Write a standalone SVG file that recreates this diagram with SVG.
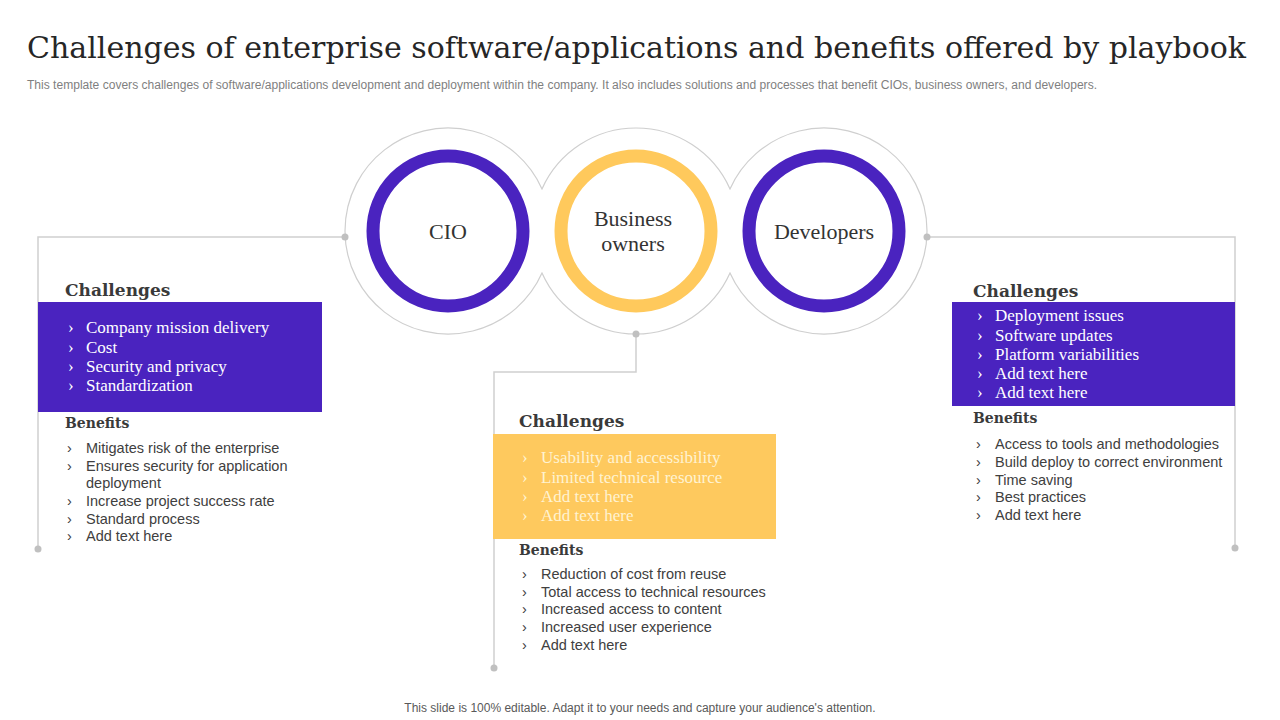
<svg xmlns="http://www.w3.org/2000/svg" width="1280" height="720" viewBox="0 0 1280 720">
<style>
.title{font-family:"DejaVu Serif","Liberation Serif",serif;font-size:29px;fill:#262626}
.sub{font-family:"Liberation Sans",Arial,sans-serif;font-size:12px;fill:#7f7f7f}
.foot{font-family:"Liberation Sans",Arial,sans-serif;font-size:12px;fill:#595959}
.lbl{font-family:"Liberation Serif",serif;font-size:22px;fill:#333333}
.hd{font-family:"DejaVu Serif","Liberation Serif",serif;font-weight:bold;font-size:17px;fill:#3a3a3a}
.bhd{font-family:"DejaVu Serif","Liberation Serif",serif;font-weight:bold;font-size:14px;fill:#3a3a3a}
.ci{font-family:"Liberation Serif",serif;font-size:17px;fill:#ffffff}
.ciy{font-family:"Liberation Serif",serif;font-size:17px;fill:#fff3d2}
.bi{font-family:"Liberation Sans",Arial,sans-serif;font-size:14.5px;fill:#404040}
.conn{fill:none;stroke:#d0d0d0;stroke-width:1.5}
.dot{fill:#c0c0c0}
.outline{fill:#ffffff;stroke:#cfcfcf;stroke-width:1.2}
.ringP{fill:#ffffff;stroke:#4a23bf;stroke-width:13}
.ringY{fill:#ffffff;stroke:#ffc95c;stroke-width:13}
</style>

<text class="title" x="27" y="58" textLength="1219" lengthAdjust="spacingAndGlyphs">Challenges of enterprise software/applications and benefits offered by playbook</text>
<text class="sub" x="27" y="89" textLength="1070" lengthAdjust="spacingAndGlyphs">This template covers challenges of software/applications development and deployment within the company. It also includes solutions and processes that benefit  CIOs, business owners, and developers.</text>

<path class="outline" d="M542,188.9 A103,103 0 1 0 542,273.1 A103,103 0 0 0 730,273.1 A103,103 0 1 0 730,188.9 A103,103 0 0 0 542,188.9 Z"/>

<g id="connectors">
  <path class="conn" d="M345,237 H38 V549"/>
  <path class="conn" d="M636,334 V372 H494 V668"/>
  <path class="conn" d="M927,237 H1235 V548"/>
  <circle class="dot" cx="345" cy="237" r="3.5"/>
  <circle class="dot" cx="38" cy="549" r="3.5"/>
  <circle class="dot" cx="636" cy="334" r="3.5"/>
  <circle class="dot" cx="494" cy="668" r="3.5"/>
  <circle class="dot" cx="927" cy="237" r="3.5"/>
  <circle class="dot" cx="1235" cy="548" r="3.5"/>
</g>

<g id="node-cio">
  <circle class="ringP" cx="448" cy="231" r="75"/>
  <text class="lbl" x="448" y="239" text-anchor="middle">CIO</text>
</g>
<g id="node-business-owners">
  <circle class="ringY" cx="636" cy="231" r="75"/>
  <text class="lbl" x="633" y="226" text-anchor="middle">Business</text>
  <text class="lbl" x="633" y="251" text-anchor="middle">owners</text>
</g>
<g id="node-developers">
  <circle class="ringP" cx="824" cy="231" r="75"/>
  <text class="lbl" x="824" y="239" text-anchor="middle">Developers</text>
</g>

<g id="panel-cio">
  <text class="hd" x="65" y="296">Challenges</text>
  <rect x="38" y="302" width="284" height="110" fill="#4a23bf"/>
  <g class="ci">
    <text x="68" y="333">›</text><text x="86" y="333">Company mission delivery</text>
    <text x="68" y="353">›</text><text x="86" y="353">Cost</text>
    <text x="68" y="372">›</text><text x="86" y="372">Security and privacy</text>
    <text x="68" y="391">›</text><text x="86" y="391">Standardization</text>
  </g>
  <text class="bhd" x="65" y="428">Benefits</text>
  <g class="bi">
    <text x="67" y="453">›</text><text x="86" y="453">Mitigates risk of the enterprise</text>
    <text x="67" y="471">›</text><text x="86" y="471">Ensures security for application</text>
    <text x="86" y="488">deployment</text>
    <text x="67" y="506">›</text><text x="86" y="506">Increase project success rate</text>
    <text x="67" y="524">›</text><text x="86" y="524">Standard process</text>
    <text x="67" y="541">›</text><text x="86" y="541">Add text here</text>
  </g>
</g>

<g id="panel-business-owners">
  <text class="hd" x="519" y="427">Challenges</text>
  <rect x="493" y="434" width="283" height="105" fill="#fec95e"/>
  <g class="ciy">
    <text x="522" y="463">›</text><text x="541" y="463">Usability and accessibility</text>
    <text x="522" y="483">›</text><text x="541" y="483">Limited technical resource</text>
    <text x="522" y="502">›</text><text x="541" y="502">Add text here</text>
    <text x="522" y="521">›</text><text x="541" y="521">Add text here</text>
  </g>
  <text class="bhd" x="519" y="555">Benefits</text>
  <g class="bi">
    <text x="522" y="579">›</text><text x="541" y="579">Reduction of cost from reuse</text>
    <text x="522" y="597">›</text><text x="541" y="597">Total access to technical resources</text>
    <text x="522" y="614">›</text><text x="541" y="614">Increased access to content</text>
    <text x="522" y="632">›</text><text x="541" y="632">Increased user experience</text>
    <text x="522" y="650">›</text><text x="541" y="650">Add text here</text>
  </g>
</g>

<g id="panel-developers">
  <text class="hd" x="973" y="297">Challenges</text>
  <rect x="952" y="302" width="283" height="104" fill="#4a23bf"/>
  <g class="ci">
    <text x="977" y="321">›</text><text x="995" y="321">Deployment issues</text>
    <text x="977" y="341">›</text><text x="995" y="341">Software updates</text>
    <text x="977" y="360">›</text><text x="995" y="360">Platform variabilities</text>
    <text x="977" y="379">›</text><text x="995" y="379">Add text here</text>
    <text x="977" y="398">›</text><text x="995" y="398">Add text here</text>
  </g>
  <text class="bhd" x="973" y="423">Benefits</text>
  <g class="bi">
    <text x="976" y="449">›</text><text x="995" y="449">Access to tools and methodologies</text>
    <text x="976" y="467">›</text><text x="995" y="467">Build deploy to correct environment</text>
    <text x="976" y="484.5">›</text><text x="995" y="484.5">Time saving</text>
    <text x="976" y="502">›</text><text x="995" y="502">Best practices</text>
    <text x="976" y="520">›</text><text x="995" y="520">Add text here</text>
  </g>
</g>

<text class="foot" x="640" y="712" text-anchor="middle">This slide is 100% editable. Adapt it to your needs and capture your audience's attention.</text>
</svg>
